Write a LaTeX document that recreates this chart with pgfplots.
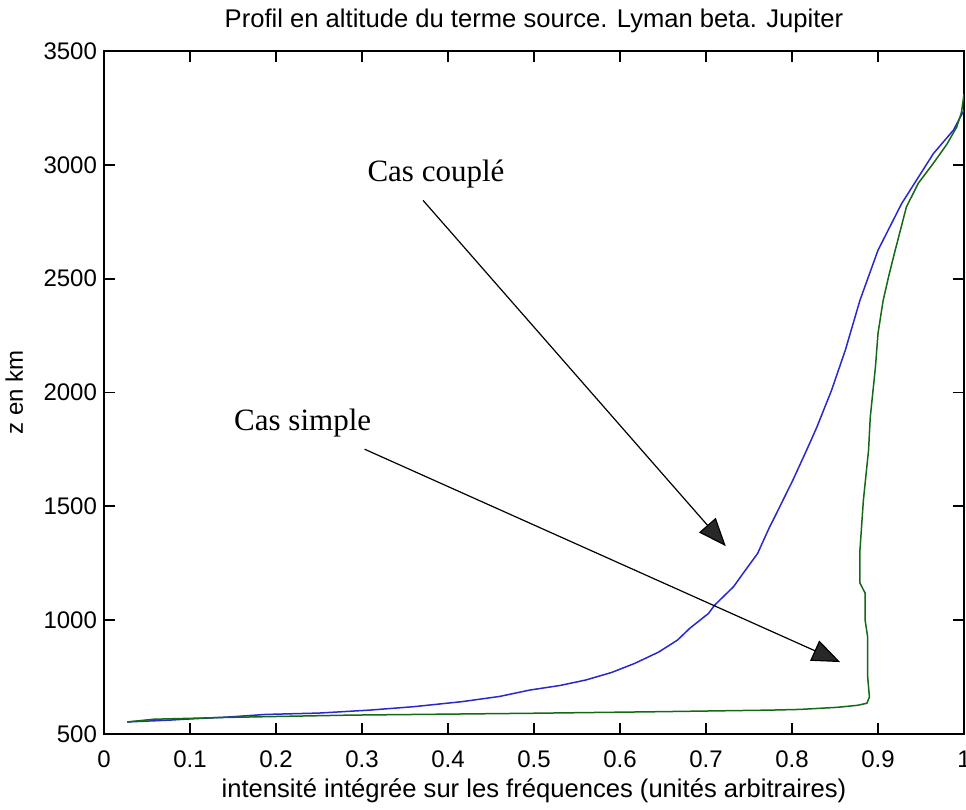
\documentclass[border=0pt]{standalone}
\usepackage{fontspec}
\setmainfont{Liberation Sans}
\newfontfamily\annfont{Liberation Serif}
\usepackage{pgfplots}
\pgfplotsset{compat=1.18}
\usetikzlibrary{arrows.meta}

\definecolor{mlblue}{RGB}{40,40,205}
\definecolor{mlgreen}{RGB}{20,105,20}
\definecolor{headgray}{RGB}{40,40,40}

\begin{document}
\begin{tikzpicture}[font=\fontsize{12}{14}\selectfont]
\begin{axis}[
  scale only axis,
  width=430pt, height=341.5pt,
  xmin=0, xmax=1, ymin=500, ymax=3500,
  xtick={0,0.1,...,1.0}, ytick={500,1000,...,3500},
  /pgf/number format/assume math mode=true,
  /pgf/number format/1000 sep={},
  xticklabel style={/pgf/number format/fixed, anchor=base, yshift=-16.5pt},
  tick align=inside, major tick length=5.5pt,
  axis line style={line width=1pt}, every tick/.style={black, line width=0.9pt},
  title={Profil en altitude du terme source. Lyman beta. Jupiter},
  title style={at={(axis description cs:0.5,1)}, anchor=base, yshift=6pt,
    font=\fontsize{12.8}{15}\selectfont},
  xlabel={intensité intégrée sur les fréquences (unités arbitraires)},
  xlabel style={at={(axis description cs:0.5,0)}, anchor=base, yshift=-31.5pt,
    font=\fontsize{12.8}{15}\selectfont},
  ylabel={z en km},
  ylabel style={at={(axis description cs:-0.0942,0.5)}, anchor=base},
]
% Cas couple
\addplot[mlblue, line width=0.75pt] coordinates {
(0.027,553) (0.058,558) (0.076,561) (0.094,565) (0.146,575) (0.188,586) (0.25,592)
(0.309,605) (0.36,620) (0.416,642) (0.46,665) (0.495,693) (0.53,713)
(0.56,737) (0.59,770) (0.617,810) (0.645,860) (0.667,913) (0.681,964)
(0.703,1030) (0.710,1066) (0.732,1147) (0.743,1205) (0.760,1293) (0.774,1410)
(0.778,1439) (0.801,1615) (0.817,1747) (0.829,1849) (0.846,2010) (0.862,2186)
(0.879,2405) (0.900,2625) (0.9275,2830) (0.9643,3049) (0.9876,3152) (1.0,3240)
};
% Cas simple
\addplot[mlgreen, line width=0.75pt] coordinates {
(0.027,553) (0.058,565) (0.144,573) (0.287,583) (0.495,591) (0.645,598)
(0.775,605) (0.809,608) (0.852,617) (0.876,626) (0.887,635) (0.890,662)
(0.888,750) (0.888,925) (0.885,1000) (0.885,1119) (0.879,1163) (0.879,1308)
(0.883,1527) (0.889,1747) (0.891,1892) (0.897,2111) (0.900,2260) (0.906,2405)
(0.913,2520) (0.920,2625) (0.933,2815) (0.947,2920) (0.964,3005) (0.980,3090)
(0.9915,3166) (0.997,3230) (1.0,3310)
};
\node[font=\annfont\fontsize{15.5}{18}\selectfont] at (axis cs:0.386,2958) {Cas couplé};
\node[font=\annfont\fontsize{15.5}{18}\selectfont] at (axis cs:0.231,1865) {Cas simple};
\draw[line width=0.6pt, -{Triangle[length=14pt,width=11pt,fill=headgray]}]
  (axis cs:0.371,2844) -- (axis cs:0.723,1325);
\draw[line width=0.6pt, -{Triangle[length=14pt,width=11pt,fill=headgray]}]
  (axis cs:0.303,1751) -- (axis cs:0.856,816);
\coordinate (sw) at (rel axis cs:0,0);
\coordinate (ne) at (rel axis cs:1,1);
\end{axis}
\pgfresetboundingbox
\path ([xshift=-52pt,yshift=-37.5pt]sw) rectangle ([xshift=1pt,yshift=25.5pt]ne);
\end{tikzpicture}
\end{document}
